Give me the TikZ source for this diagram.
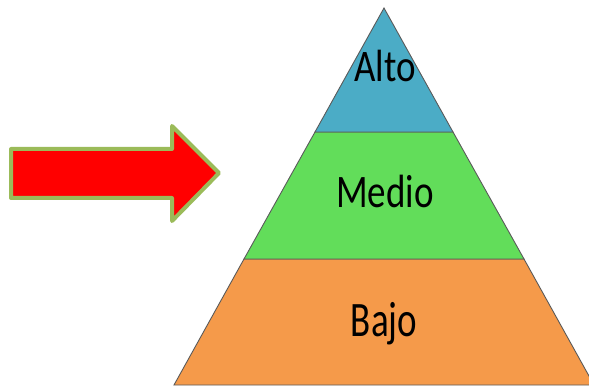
\documentclass[tikz,border=0pt]{standalone}
\usepackage{fontspec}
\usepackage{graphicx}
\setmainfont{Carlito}
\definecolor{altoc}{HTML}{4BACC6}
\definecolor{medioc}{HTML}{62DD5A}
\definecolor{bajoc}{HTML}{F59A4A}
\definecolor{arrowedge}{HTML}{9BBB59}
\definecolor{edgegray}{HTML}{5A5A5A}
\tikzset{
  layer/.style={draw=edgegray, line width=0.9pt, line join=miter},
  lbl/.style={font=\fontsize{37}{40}\selectfont, text=black, inner sep=0pt, anchor=base},
  bigarrow/.style={fill=red, draw=arrowedge, line width=4pt, line join=round}
}
\begin{document}
\begin{tikzpicture}[x=1pt,y=-1pt]
\useasboundingbox (0,0) rectangle (589,387);
\coordinate (apex) at (384,8);
\coordinate (l1) at (315,132);
\coordinate (r1) at (453,132);
\coordinate (l2) at (244,259);
\coordinate (r2) at (524,259);
\coordinate (l3) at (174,385);
\coordinate (r3) at (594,385);
\fill[bajoc] (l2) -- (r2) -- (r3) -- (l3) -- cycle;
\draw[layer] (l2) -- (r2) -- (r3) -- (l3) -- cycle;
\fill[medioc] (l1) -- (r1) -- (r2) -- (l2) -- cycle;
\draw[layer] (l1) -- (r1) -- (r2) -- (l2) -- cycle;
\fill[altoc] (apex) -- (r1) -- (l1) -- cycle;
\draw[layer] (apex) -- (r1) -- (l1) -- cycle;
\node[lbl] (alto) at (385,82) {\scalebox{1}[1.22]{Alto}};
\node[lbl] (medio) at (385,208) {\scalebox{1}[1.26]{Medio}};
\node[lbl] (bajo) at (384,337) {\scalebox{1}[1.34]{Bajo}};
\draw[bigarrow] (11,149) -- (172,149) -- (172,126) -- (219,173) -- (172,221) -- (172,198) -- (11,198) -- cycle;
\end{tikzpicture}
\end{document}
